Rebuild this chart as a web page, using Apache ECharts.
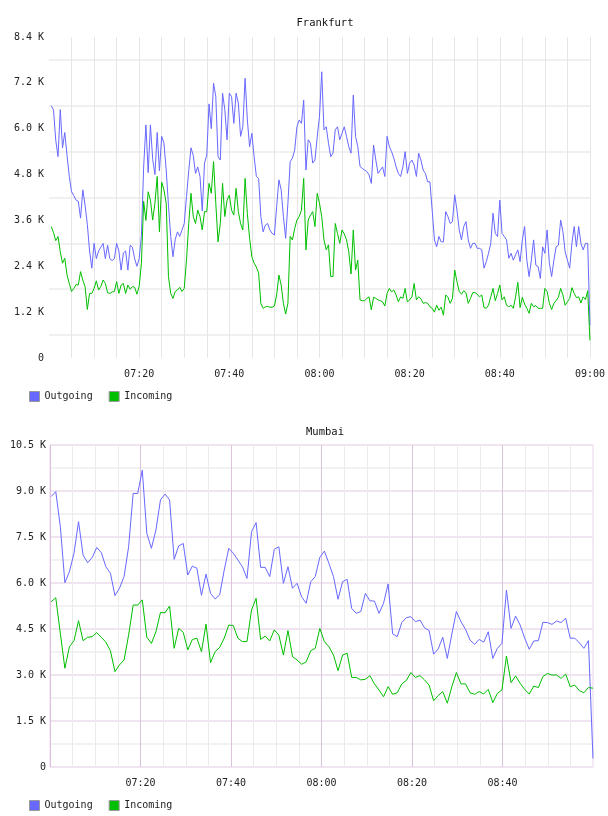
<!DOCTYPE html>
<html>
<head>
<meta charset="utf-8">
<title>Frankfurt / Mumbai</title>
<script src="https://cdn.jsdelivr.net/npm/echarts@6/dist/echarts.min.js"></script>
<style>
html, body { margin: 0; padding: 0; background: #fff; }
#chart { width: 608px; height: 816px; }
</style>
</head>
<body>
<div id="chart"></div>
<script>
// minutes after 07:00, values in K
var seriesNames = ['Outgoing', 'Incoming'];

// Frankfurt: one sample every 30 s from 07:00:30
var frankfurtStart = 0.5, frankfurtStep = 0.5;
var frankfurtOut = [
  6.6, 6.49, 5.7, 5.27, 6.5, 5.5, 5.9, 5.3, 4.75, 4.35,
  4.25, 4.13, 4.1, 3.66, 4.4, 4.0, 3.5, 2.8, 2.35, 3.0,
  2.6, 2.8, 2.9, 3.0, 2.6, 2.95, 2.6, 2.55, 2.6, 3.0,
  2.8, 2.3, 2.75, 2.8, 2.3, 2.95, 2.9, 2.6, 2.4, 2.6,
  3.2, 5.0, 6.1, 4.85, 6.1, 5.2, 4.8, 5.9, 4.9, 5.8,
  5.62, 4.92, 4.0, 3.18, 2.65, 3.1, 3.3, 3.18, 3.35, 3.52,
  4.22, 4.9, 5.5, 5.3, 4.83, 5.0, 4.75, 3.85, 5.1, 5.31,
  6.65, 6.0, 7.19, 6.84, 5.27, 5.18, 6.93, 6.5, 5.71, 6.93,
  6.84, 6.14, 6.93, 6.67, 5.8, 6.05, 7.32, 6.23, 5.53, 5.88,
  5.27, 4.75, 4.7, 3.7, 3.3, 3.48, 3.52, 3.35, 3.26, 3.22,
  3.96, 4.66, 4.4, 3.7, 3.13, 4.05, 5.14, 5.23, 5.44, 6.05,
  6.23, 6.14, 6.75, 4.92, 5.71, 5.62, 5.1, 5.18, 5.79, 6.32,
  7.49, 5.97, 6.05, 5.62, 5.27, 5.36, 5.97, 6.05, 5.71, 5.88,
  6.05, 5.8, 5.53, 5.36, 6.88, 5.8, 5.53, 5.01, 4.96, 4.92,
  4.88, 4.79, 4.57, 5.57, 5.18, 4.83, 4.92, 5.0, 4.75, 5.8,
  5.53, 5.4, 5.23, 5.0, 4.83, 4.75, 5.0, 5.4, 4.83, 5.1,
  5.18, 5.05, 4.75, 5.36, 5.18, 4.92, 4.83, 4.61, 4.61, 3.87,
  3.09, 2.91, 3.18, 3.04, 3.04, 3.83, 3.7, 3.52, 3.57, 4.27,
  3.87, 3.35, 3.09, 3.44, 3.57, 3.09, 2.87, 3.0, 3.0, 2.87,
  2.87, 2.83, 2.35, 2.52, 2.74, 3.0, 3.79, 3.26, 3.18, 4.13,
  3.26, 3.18, 3.09, 2.61, 2.74, 2.56, 2.7, 2.83, 2.52, 3.09,
  3.44, 2.56, 2.13, 2.56, 3.09, 2.43, 2.39, 2.08, 2.91, 2.74,
  3.35, 2.48, 2.13, 2.56, 2.91, 2.95, 3.61, 3.31, 2.78, 2.56,
  2.35, 3.0, 3.44, 2.91, 3.44, 3.0, 2.83, 3.0, 3.0, 0.86
];
var frankfurtIn = [
  3.44, 3.28, 3.07, 3.18, 2.78, 2.48, 2.61, 2.17, 1.95, 1.74,
  1.82, 1.92, 1.91, 2.26, 2.04, 1.87, 1.27, 1.69, 1.69, 1.82,
  2.02, 1.78, 1.87, 2.04, 1.95, 1.71, 1.69, 1.73, 1.74, 2.0,
  1.69, 1.91, 1.95, 1.69, 1.91, 1.8, 1.87, 1.85, 1.67, 1.87,
  2.48, 4.1, 3.6, 4.35, 4.13, 3.61, 4.05, 4.75, 3.3, 4.6,
  4.4, 4.05, 2.13, 1.69, 1.56, 1.74, 1.78, 1.85, 1.74, 1.82,
  2.56, 3.52, 4.31, 3.7, 3.52, 3.87, 3.7, 3.35, 3.83, 3.83,
  4.57, 4.31, 5.14, 4.05, 3.04, 3.52, 4.57, 3.7, 4.13, 4.26,
  3.87, 3.74, 4.44, 3.83, 3.52, 3.35, 4.7, 3.78, 3.13, 2.65,
  2.48, 2.38, 2.22, 1.43, 1.3, 1.34, 1.35, 1.33, 1.33, 1.36,
  1.65, 2.17, 1.91, 1.43, 1.15, 1.43, 3.18, 3.09, 3.39, 3.61,
  3.7, 3.87, 4.7, 2.83, 3.61, 3.74, 3.83, 3.44, 4.31, 4.05,
  3.7, 3.09, 2.83, 2.96, 2.13, 2.13, 3.52, 3.26, 3.0, 3.35,
  3.25, 3.09, 2.78, 2.2, 3.35, 2.3, 2.56, 1.52, 1.5, 1.5,
  1.56, 1.6, 1.26, 1.59, 1.56, 1.52, 1.5, 1.47, 1.36, 1.69,
  1.82, 1.73, 1.78, 1.65, 1.47, 1.6, 1.56, 1.82, 1.47, 1.52,
  1.6, 1.95, 1.52, 1.6, 1.55, 1.43, 1.45, 1.43, 1.34, 1.3,
  1.2, 1.38, 1.25, 1.33, 1.12, 1.65, 1.59, 1.43, 1.56, 2.3,
  2.0, 1.74, 1.67, 1.76, 1.71, 1.43, 1.56, 1.71, 1.71, 1.67,
  1.6, 1.65, 1.32, 1.3, 1.38, 1.6, 1.82, 1.5, 1.69, 1.91,
  1.52, 1.6, 1.38, 1.34, 1.38, 1.3, 1.6, 1.98, 1.32, 1.59,
  1.41, 1.3, 1.17, 1.43, 1.34, 1.37, 1.3, 1.3, 1.3, 1.82,
  1.74, 1.43, 1.27, 1.43, 1.5, 1.59, 1.82, 1.65, 1.38, 1.47,
  1.56, 1.84, 1.69, 1.58, 1.6, 1.44, 1.6, 1.53, 1.76, 0.46
];

// Mumbai: one sample about every minute
var mumbaiStart = 0.27, mumbaiStep = 1.0061;
var mumbaiOut = [
  8.82, 8.98, 7.84, 6.01, 6.37, 6.97, 8.0, 6.91, 6.66, 6.83,
  7.16, 6.99, 6.53, 6.32, 5.59, 5.83, 6.21, 7.18, 8.92, 8.92,
  9.68, 7.62, 7.13, 7.73, 8.71, 8.9, 8.71, 6.77, 7.21, 7.29,
  6.26, 6.55, 6.48, 5.6, 6.29, 5.66, 5.48, 5.61, 6.42, 7.13,
  6.97, 6.75, 6.53, 6.15, 7.67, 7.97, 6.51, 6.51, 6.21, 7.10,
  7.18, 5.99, 6.53, 5.83, 5.99, 5.55, 5.34, 6.04, 6.21, 6.84,
  7.04, 6.64, 6.21, 5.47, 6.04, 6.12, 5.17, 5.01, 5.07, 5.66,
  5.42, 5.41, 5.01, 5.34, 5.97, 4.34, 4.25, 4.71, 4.87, 4.90,
  4.74, 4.79, 4.54, 4.45, 3.68, 3.85, 4.23, 3.54, 4.34, 5.07,
  4.74, 4.49, 4.14, 4.0, 4.16, 4.07, 4.41, 3.54, 3.87, 4.03,
  5.77, 4.52, 4.92, 4.63, 4.20, 3.84, 4.11, 4.12, 4.72, 4.71,
  4.65, 4.76, 4.71, 4.85, 4.20, 4.20, 4.05, 3.87, 4.12, 0.28
];
var mumbaiIn = [
  5.39, 5.52, 4.36, 3.22, 3.92, 4.12, 4.77, 4.12, 4.23, 4.25,
  4.38, 4.23, 4.07, 3.79, 3.11, 3.33, 3.49, 4.30, 5.28, 5.28,
  5.45, 4.23, 4.03, 4.41, 5.04, 5.03, 5.25, 3.87, 4.52, 4.39,
  3.82, 4.16, 4.2, 3.76, 4.66, 3.40, 3.76, 3.90, 4.20, 4.63,
  4.61, 4.20, 4.09, 4.09, 5.12, 5.50, 4.16, 4.27, 4.11, 4.47,
  4.30, 3.65, 4.45, 3.60, 3.49, 3.35, 3.43, 3.79, 3.87, 4.52,
  4.09, 3.92, 3.65, 3.14, 3.65, 3.71, 2.92, 2.92, 2.84, 2.86,
  2.98, 2.71, 2.51, 2.29, 2.62, 2.37, 2.42, 2.71, 2.82, 3.08,
  2.92, 2.98, 2.84, 2.67, 2.16, 2.33, 2.46, 2.08, 2.62, 3.08,
  2.71, 2.71, 2.42, 2.37, 2.46, 2.38, 2.53, 2.10, 2.40, 2.51,
  3.62, 2.75, 2.97, 2.73, 2.53, 2.38, 2.64, 2.59, 2.95, 3.05,
  3.0, 3.0, 2.89, 3.03, 2.62, 2.67, 2.49, 2.42, 2.59, 2.57
];

var frankfurtTicks = { max: 8.4, step: 1.2 };
var mumbaiTicks = { max: 10.5, step: 1.5 };

var outColor = '#6868ff';
var inColor = '#00bf00';
var monoFont = 'DejaVu Sans Mono';

// pair up sample times with values
function toPairs(vals, start, step) {
    var out = [];
    for (var i = 0; i < vals.length; i++) {
        out.push([+(start + i * step).toFixed(3), vals[i]]);
    }
    return out;
}

function clock(v) {
    var h = 7 + Math.floor(v / 60), m = v % 60;
    return (h < 10 ? '0' : '') + h + ':' + (m < 10 ? '0' : '') + m;
}

function kLabel(v) {
    return v === 0 ? '0' : v.toFixed(1) + ' K';
}

var lblStyle = { fontFamily: monoFont, fontSize: 10, color: '#222' };

function lineSeries(name, color, data, idx) {
    return {
        name: name,
        type: 'line',
        xAxisIndex: idx,
        yAxisIndex: idx,
        data: data,
        symbol: 'none',
        showSymbol: false,
        color: color,
        lineStyle: { width: 1, color: color },
        emphasis: { disabled: true }
    };
}

var myChart = echarts.init(document.getElementById('chart'));

var option = {
    backgroundColor: '#fff',
    animation: false,
    title: [
        { text: 'Frankfurt', left: 320, top: 13, textAlign: 'center',
          textStyle: { fontFamily: monoFont, fontSize: 10.5, fontWeight: 'normal', color: '#111' } },
        { text: 'Mumbai', left: 320, top: 422, textAlign: 'center',
          textStyle: { fontFamily: monoFont, fontSize: 10.5, fontWeight: 'normal', color: '#111' } }
    ],
    legend: [
        { data: seriesNames, left: 24, top: 386, icon: 'rect', itemWidth: 10, itemHeight: 10, itemGap: 16,
          textStyle: lblStyle, itemStyle: { borderColor: '#999', borderWidth: 1 } },
        { data: seriesNames, left: 24, top: 795, icon: 'rect', itemWidth: 10, itemHeight: 10, itemGap: 16,
          textStyle: lblStyle, itemStyle: { borderColor: '#999', borderWidth: 1 } }
    ],
    grid: [
        { left: 49, right: 17, top: 37, height: 321, show: false },
        { left: 50, right: 15, top: 445, height: 322, show: true,
          borderColor: '#e8d2e8', borderWidth: 1 }
    ],
    xAxis: [
        {
            gridIndex: 0, type: 'value', min: 0, max: 120, interval: 5,
            axisLine: { show: false }, axisTick: { show: false },
            axisLabel: Object.assign({ margin: 11, formatter: function (v) {
                return (v % 20 === 0 && v > 0) ? clock(v) : '';
            } }, lblStyle),
            splitLine: { show: true, showMinLine: false, lineStyle: { color: '#e6e6e6', width: 1 } }
        },
        {
            gridIndex: 1, type: 'value', min: 0, max: 120, interval: 5,
            axisLine: { show: false }, axisTick: { show: false },
            axisLabel: Object.assign({ margin: 11, formatter: function (v) {
                return (v % 20 === 0 && v > 0 && v < 120) ? clock(v) : '';
            } }, lblStyle),
            splitLine: { show: true, showMaxLine: false,
                lineStyle: { color: ['#dcc2dc', '#ebebeb', '#ebebeb', '#ebebeb'], width: 1 } }
        }
    ],
    yAxis: [
        {
            gridIndex: 0, type: 'value', min: 0, max: frankfurtTicks.max, interval: frankfurtTicks.step,
            axisLine: { show: false }, axisTick: { show: false },
            axisLabel: Object.assign({ margin: 5, formatter: kLabel }, lblStyle),
            splitLine: { show: false },
            minorTick: { show: false, splitNumber: 2 },
            minorSplitLine: { show: true, lineStyle: { color: '#f0f0f0', width: 2 } }
        },
        {
            gridIndex: 1, type: 'value', min: 0, max: mumbaiTicks.max, interval: mumbaiTicks.step,
            axisLine: { show: false }, axisTick: { show: false },
            axisLabel: Object.assign({ margin: 4, formatter: kLabel }, lblStyle),
            splitLine: { show: true, lineStyle: { color: '#f0e4f0', width: 2 } },
            minorTick: { show: false, splitNumber: 2 },
            minorSplitLine: { show: true, lineStyle: { color: '#f2f2f2', width: 2 } }
        }
    ],
    series: [
        lineSeries('Outgoing', outColor, toPairs(frankfurtOut, frankfurtStart, frankfurtStep), 0),
        lineSeries('Incoming', inColor, toPairs(frankfurtIn, frankfurtStart, frankfurtStep), 0),
        lineSeries('Outgoing', outColor, toPairs(mumbaiOut, mumbaiStart, mumbaiStep), 1),
        lineSeries('Incoming', inColor, toPairs(mumbaiIn, mumbaiStart, mumbaiStep), 1)
    ]
};

myChart.setOption(option);
</script>
</body>
</html>
